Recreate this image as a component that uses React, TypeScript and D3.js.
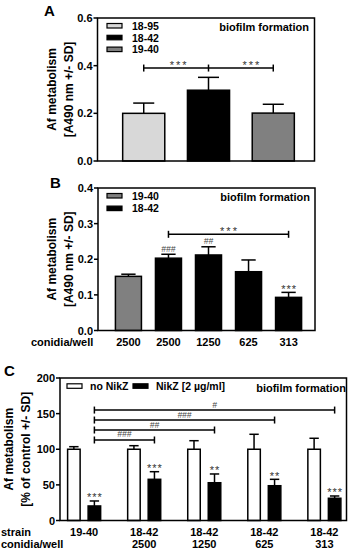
import React from 'react';
import * as d3 from 'd3';

// ---------- DATA ----------
const panelAStrains = ['18-95', '18-42', '19-40'];
const panelAMeans = [0.2, 0.297, 0.201];
const panelASD = [0.043, 0.054, 0.037];
const panelATicks = [0, 0.2, 0.4, 0.6];
const panelASig = ['***', '***'];

const panelBStrains = ['19-40', '18-42', '18-42', '18-42', '18-42'];
const panelBConidia = ['2500', '2500', '1250', '625', '313'];
const panelBMeans = [0.152, 0.203, 0.212, 0.165, 0.093];
const panelBSD = [0.006, 0.011, 0.023, 0.033, 0.014];
const panelBMarks = ['', '###', '##', '', '***'];
const panelBTicks = [0, 0.1, 0.2, 0.3, 0.4];
const panelBLegend = ['19-40', '18-42'];

const panelCStrains = ['19-40', '18-42', '18-42', '18-42', '18-42'];
const panelCConidia = ['', '2500', '1250', '625', '313'];
const panelCSeries = ['no NikZ', 'NikZ [2 µg/ml]'];
const panelCNoNikZ = [100, 100, 100, 100, 100];
const panelCNoNikZSD = [3.6, 5, 12, 21, 15.4];
const panelCNikZ = [20.4, 57.8, 53, 48.8, 31.2];
const panelCNikZSD = [7, 10.7, 12.3, 9, 3.2];
const panelCStars = ['***', '***', '**', '**', '***'];
const panelCHashes = ['###', '##', '###', '#'];
const panelCTicks = [0, 50, 100, 150, 200];

// ---------- STYLE ----------
const FONT = "'Liberation Sans', Arial, Helvetica, sans-serif";
const strainColor: Record<string, string> = { '18-95': '#d8d8d8', '18-42': '#000000', '19-40': '#808080' };
const seriesColor = ['#ffffff', '#000000'];
const SW = 1.5;
const FS = 11;

function YAxis({ y, ticks, x, fmt }: { y: d3.ScaleLinear<number, number>; ticks: number[]; x: number; fmt: (v: number) => string }) {
  return (
    <g>
      {ticks.map((t) => (
        <g key={t}>
          <line x1={x - 4} x2={x} y1={y(t)} y2={y(t)} stroke="#000" strokeWidth={SW} />
          <text x={x - 5} y={y(t) + 4} textAnchor="end" fontSize={FS} fontWeight="bold" fontFamily={FONT}>
            {fmt(t)}
          </text>
        </g>
      ))}
    </g>
  );
}

function Frame({ x0, x1, y0, y1 }: { x0: number; x1: number; y0: number; y1: number }) {
  return <rect x={x0} y={y1} width={x1 - x0} height={y0 - y1} fill="none" stroke="#000" strokeWidth={SW} />;
}

function ErrBar({ cx, yTop, yErr, cap }: { cx: number; yTop: number; yErr: number; cap: number }) {
  return (
    <g stroke="#000" strokeWidth={SW}>
      <line x1={cx} x2={cx} y1={yTop} y2={yErr} />
      <line x1={cx - cap / 2} x2={cx + cap / 2} y1={yErr} y2={yErr} />
    </g>
  );
}

function YTitle({ lines, cx, cy }: { lines: string[]; cx: number[]; cy: number }) {
  return (
    <g>
      {lines.map((l, i) => (
        <text
          key={i}
          transform={`translate(${cx[i]},${cy}) rotate(-90)`}
          textAnchor="middle"
          fontSize={12}
          fontWeight="bold"
          fontFamily={FONT}
        >
          {l}
        </text>
      ))}
    </g>
  );
}

function Stars({ x, y, s, size = 11, ls = 1 }: { x: number; y: number; s: string; size?: number; ls?: number }) {
  return (
    <text x={x + ls / 2} y={y} textAnchor="middle" fontSize={size} letterSpacing={ls} fill="#333" fontFamily={FONT}>
      {s}
    </text>
  );
}

function Hash({ x, y, s }: { x: number; y: number; s: string }) {
  return (
    <text x={x} y={y} textAnchor="middle" fontSize={8.5} fontStyle="italic" fill="#444" fontFamily={FONT}>
      {s}
    </text>
  );
}

function PanelA() {
  const x0 = 97.5, x1 = 314.5, y0 = 161, y1 = 18;
  const y = d3.scaleLinear().domain([0, 0.6]).range([y0, y1]);
  const x = d3.scaleBand<string>().domain(panelAStrains).range([100, 317]).paddingInner(0.35).paddingOuter(0.35);
  const bw = x.bandwidth();
  const cx = (s: string) => (x(s) as number) + bw / 2;
  const by = y(0.39);
  const c0 = cx(panelAStrains[0]), c1 = cx(panelAStrains[1]), c2 = cx(panelAStrains[2]);
  return (
    <g>
      <text x={44} y={16} fontSize={15} fontWeight="bold" fontFamily={FONT}>A</text>
      <YTitle lines={['Af metabolism', '[A490 nm +/- SD]']} cx={[56, 73]} cy={(y0 + y1) / 2} />
      {panelAStrains.map((s, i) => (
        <g key={s}>
          <rect x={x(s)} y={y(panelAMeans[i])} width={bw} height={y0 - y(panelAMeans[i])} fill={strainColor[s]} stroke="#000" strokeWidth={SW} />
          <ErrBar cx={cx(s)} yTop={y(panelAMeans[i])} yErr={y(panelAMeans[i] + panelASD[i])} cap={bw * 0.5} />
        </g>
      ))}
      <Frame x0={x0} x1={x1} y0={y0} y1={y1} />
      <YAxis y={y} ticks={panelATicks} x={x0} fmt={d3.format('.1f')} />
      {/* legend */}
      {panelAStrains.map((s, i) => (
        <g key={s}>
          <rect x={107} y={23.5 + i * 11.8} width={15} height={4.5} fill={strainColor[s]} stroke="#000" strokeWidth={1.2} />
          <text x={132} y={29.8 + i * 11.8} fontSize={10.5} fontWeight="bold" fontFamily={FONT}>{s}</text>
        </g>
      ))}
      <text x={309} y={31} textAnchor="end" fontSize={FS} fontWeight="bold" fontFamily={FONT}>biofilm formation</text>
      {/* bracket */}
      <g stroke="#000" strokeWidth={SW}>
        <line x1={c0} x2={c2} y1={by} y2={by} />
        {[c0, c1, c2].map((c, i) => (
          <line key={i} x1={c} x2={c} y1={by - 3.5} y2={by + 3.5} />
        ))}
      </g>
      <Stars x={(c0 + c1) / 2 + 2} y={by + 0.5} s={panelASig[0]} ls={2} />
      <Stars x={(c1 + c2) / 2 + 10} y={by + 0.5} s={panelASig[1]} ls={2} />
    </g>
  );
}

function PanelB() {
  const x0 = 98, x1 = 315, y0 = 330.5, y1 = 188;
  const y = d3.scaleLinear().domain([0, 0.4]).range([y0, y1]);
  const idx = panelBMeans.map((_, i) => String(i));
  const x = d3.scaleBand<string>().domain(idx).range([101, 316]).paddingInner(0.35).paddingOuter(0.36);
  const bw = x.bandwidth();
  const cx = (i: number) => (x(String(i)) as number) + bw / 2;
  const by = y(0.27);
  return (
    <g>
      <text x={50} y={188} fontSize={15} fontWeight="bold" fontFamily={FONT}>B</text>
      <YTitle lines={['Af metabolism', '[A490 nm +/- SD]']} cx={[56, 73]} cy={(y0 + y1) / 2} />
      {panelBMeans.map((m, i) => (
        <g key={i}>
          <rect x={x(String(i))} y={y(m)} width={bw} height={y0 - y(m)} fill={strainColor[panelBStrains[i]]} stroke="#000" strokeWidth={SW} />
          <ErrBar cx={cx(i)} yTop={y(m)} yErr={y(m + panelBSD[i])} cap={bw * 0.55} />
          {panelBMarks[i].startsWith('#') && <Hash x={cx(i)} y={y(m + panelBSD[i]) - 2.5} s={panelBMarks[i]} />}
          {panelBMarks[i].startsWith('*') && <Stars x={cx(i)} y={y(m + panelBSD[i]) + 0.5} s={panelBMarks[i]} ls={1} />}
          <text x={cx(i)} y={345.5} textAnchor="middle" fontSize={FS} fontWeight="bold" fontFamily={FONT}>{panelBConidia[i]}</text>
        </g>
      ))}
      <Frame x0={x0} x1={x1} y0={y0} y1={y1} />
      <YAxis y={y} ticks={panelBTicks} x={x0} fmt={d3.format('.1f')} />
      {panelBLegend.map((s, i) => (
        <g key={s}>
          <rect x={107} y={193.5 + i * 12.6} width={15} height={4.5} fill={strainColor[s]} stroke="#000" strokeWidth={1.2} />
          <text x={132} y={199.8 + i * 12.6} fontSize={10.5} fontWeight="bold" fontFamily={FONT}>{s}</text>
        </g>
      ))}
      <text x={310} y={201} textAnchor="end" fontSize={FS} fontWeight="bold" fontFamily={FONT}>biofilm formation</text>
      <g stroke="#000" strokeWidth={SW}>
        <line x1={cx(1)} x2={cx(4)} y1={by} y2={by} />
        <line x1={cx(1)} x2={cx(1)} y1={by - 3.5} y2={by + 3.5} />
        <line x1={cx(4)} x2={cx(4)} y1={by - 3.5} y2={by + 3.5} />
      </g>
      <Stars x={(cx(1) + cx(4)) / 2} y={by + 0.5} s="***" ls={2} />
      <text x={31} y={345.5} fontSize={FS} fontWeight="bold" fontFamily={FONT}>conidia/well</text>
    </g>
  );
}

function PanelC() {
  const x0 = 60, x1 = 346.5, y0 = 520.5, y1 = 378;
  const y = d3.scaleLinear().domain([0, 200]).range([y0, y1]);
  const idx = panelCNikZ.map((_, i) => String(i));
  const x = d3.scaleBand<string>().domain(idx).range([61, 347.5]).paddingInner(0.45).paddingOuter(0.11);
  const xs = d3.scaleBand<string>().domain(panelCSeries).range([0, x.bandwidth()]).paddingInner(0.39);
  const sbw = xs.bandwidth();
  const gx = (i: number) => x(String(i)) as number;
  const bx = (i: number, s: number) => gx(i) + (xs(panelCSeries[s]) as number);
  const bcx = (i: number, s: number) => bx(i, s) + sbw / 2;
  const vals = [panelCNoNikZ, panelCNikZ];
  const sds = [panelCNoNikZSD, panelCNikZSD];
  const bracketLevels = [113, 127, 141, 155];
  return (
    <g>
      <text x={4} y={376} fontSize={15} fontWeight="bold" fontFamily={FONT}>C</text>
      <YTitle lines={['Af metabolism', '[% of control +/- SD]']} cx={[13, 30]} cy={(y0 + y1) / 2} />
      {vals.map((arr, s) =>
        arr.map((v, i) => (
          <g key={`${s}-${i}`}>
            <rect x={bx(i, s)} y={y(v)} width={sbw} height={y0 - y(v)} fill={seriesColor[s]} stroke="#000" strokeWidth={SW} />
            <ErrBar cx={bcx(i, s)} yTop={y(v)} yErr={y(v + sds[s][i])} cap={sbw * 0.75} />
          </g>
        ))
      )}
      {panelCStars.map((st, i) => (
        <Stars key={i} x={bcx(i, 1)} y={y(panelCNikZ[i] + panelCNikZSD[i]) + 0.5} s={st} ls={1} />
      ))}
      <Frame x0={x0} x1={x1} y0={y0} y1={y1} />
      <YAxis y={y} ticks={panelCTicks} x={x0} fmt={d3.format('d')} />
      {panelCHashes.map((h, k) => {
        const yy = y(bracketLevels[k]);
        const a = bcx(0, 1), b = bcx(k + 1, 1);
        return (
          <g key={k}>
            <g stroke="#000" strokeWidth={SW}>
              <line x1={a} x2={b} y1={yy} y2={yy} />
              <line x1={a} x2={a} y1={yy - 3.5} y2={yy + 3.5} />
              <line x1={b} x2={b} y1={yy - 3.5} y2={yy + 3.5} />
            </g>
            <Hash x={(a + b) / 2} y={yy - 2.5} s={h} />
          </g>
        );
      })}
      {/* legend */}
      {panelCSeries.map((s, i) => {
        const lx = i === 0 ? 67 : 133;
        return (
          <g key={s}>
            <rect x={lx} y={383.8} width={15} height={4.5} fill={seriesColor[i]} stroke="#000" strokeWidth={1.2} />
            <text x={lx + 23} y={389.8} fontSize={10.5} fontWeight="bold" fontFamily={FONT}>{s}</text>
          </g>
        );
      })}
      <text x={346} y={391.5} textAnchor="end" fontSize={FS} fontWeight="bold" fontFamily={FONT}>biofilm formation</text>
      {/* x labels */}
      <text x={1} y={536} fontSize={FS} fontWeight="bold" fontFamily={FONT}>strain</text>
      <text x={1} y={547.5} fontSize={FS} fontWeight="bold" fontFamily={FONT}>conidia/well</text>
      {panelCStrains.map((s, i) => (
        <g key={i}>
          <text x={gx(i) + x.bandwidth() / 2} y={536} textAnchor="middle" fontSize={FS} fontWeight="bold" fontFamily={FONT}>{s}</text>
          <text x={gx(i) + x.bandwidth() / 2} y={547.5} textAnchor="middle" fontSize={FS} fontWeight="bold" fontFamily={FONT}>{panelCConidia[i]}</text>
        </g>
      ))}
    </g>
  );
}

export default function App() {
  return (
    <svg width={351} height={550} style={{ position: 'absolute', left: 0, top: 0, background: '#fff' }}>
      <PanelA />
      <PanelB />
      <PanelC />
    </svg>
  );
}
